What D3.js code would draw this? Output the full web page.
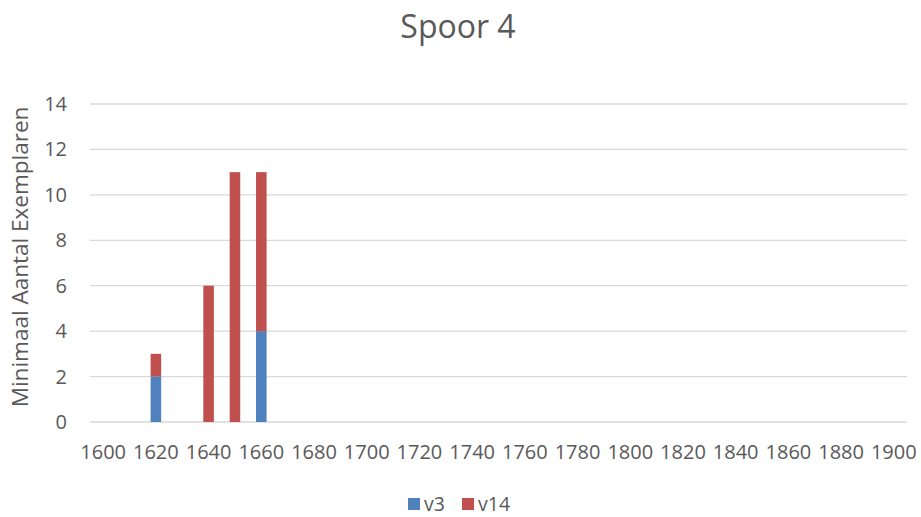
<!DOCTYPE html>
<html>
<head>
<meta charset="utf-8">
<script src="https://cdn.jsdelivr.net/npm/d3@7"></script>
<style>
  body { margin: 0; background: #fff; }
  text { font-family: "Open Sans", sans-serif; fill: #595959; }
</style>
</head>
<body>
<div id="chart"></div>
<script>
// categories every 10 years, labels every 20
const years = d3.range(1600, 1901, 10);
const seriesNames = ["v3", "v14"];
const v3Values = { 1620: 2, 1660: 4 };
const v14Values = { 1620: 1, 1640: 6, 1650: 11, 1660: 7 };
const yTicks = [0, 2, 4, 6, 8, 10, 12, 14];
const colors = ["#4F81BD", "#C0504D"];

const width = 921, height = 517;
const margin = { top: 104, right: 14, bottom: 95, left: 90 };
const innerW = width - margin.left - margin.right;
const innerH = height - margin.top - margin.bottom;

const rows = years.map(y => ({ year: y, v3: v3Values[y] || 0, v14: v14Values[y] || 0 }));
const stacked = d3.stack().keys(seriesNames)(rows);

const svg = d3.select("#chart").append("svg")
  .attr("width", width)
  .attr("height", height);

const g = svg.append("g")
  .attr("transform", `translate(${margin.left},${margin.top})`);

const x = d3.scaleBand().domain(years).range([0, innerW]).paddingInner(0.6).paddingOuter(0.3);
const y = d3.scaleLinear().domain([0, 14]).range([innerH, 0]);

// gridlines
g.selectAll(".grid")
  .data(yTicks)
  .enter().append("line")
  .attr("x1", 0).attr("x2", innerW)
  .attr("y1", d => y(d)).attr("y2", d => y(d))
  .attr("stroke", "#d9d9d9")
  .attr("stroke-width", 1.3);

// bars
g.selectAll(".series")
  .data(stacked)
  .enter().append("g")
  .attr("fill", (d, i) => colors[i])
  .selectAll("rect")
  .data(d => d)
  .enter().append("rect")
  .attr("x", d => x(d.data.year))
  .attr("width", x.bandwidth())
  .attr("y", d => y(d[1]))
  .attr("height", d => y(d[0]) - y(d[1]));

// y axis labels
g.selectAll(".ylab")
  .data(yTicks)
  .enter().append("text")
  .attr("x", -23)
  .attr("y", d => y(d))
  .attr("dy", "0.35em")
  .attr("text-anchor", "end")
  .style("font-size", "20px")
  .text(d => d);

// x axis labels
g.selectAll(".xlab")
  .data(years.filter(d => d % 20 === 0))
  .enter().append("text")
  .attr("x", d => x(d) + x.bandwidth() / 2)
  .attr("y", innerH + 37)
  .attr("text-anchor", "middle")
  .style("font-size", "20px")
  .text(d => d);

// title
svg.append("text")
  .attr("x", 458)
  .attr("y", 38)
  .attr("text-anchor", "middle")
  .style("font-size", "32px")
  .text("Spoor 4");

// y axis title
svg.append("text")
  .attr("transform", `translate(28,257) rotate(-90)`)
  .attr("text-anchor", "middle")
  .style("font-size", "22.5px")
  .text("Minimaal Aantal Exemplaren");

// legend
const legend = svg.append("g").attr("transform", "translate(408,498)");
const legendX = [0, 54];
seriesNames.forEach((name, i) => {
  legend.append("rect")
    .attr("x", legendX[i]).attr("y", 0)
    .attr("width", 12).attr("height", 12)
    .attr("fill", colors[i]);
  legend.append("text")
    .attr("x", legendX[i] + 16).attr("y", 13)
    .style("font-size", "19.5px")
    .text(name);
});
</script>
</body>
</html>
